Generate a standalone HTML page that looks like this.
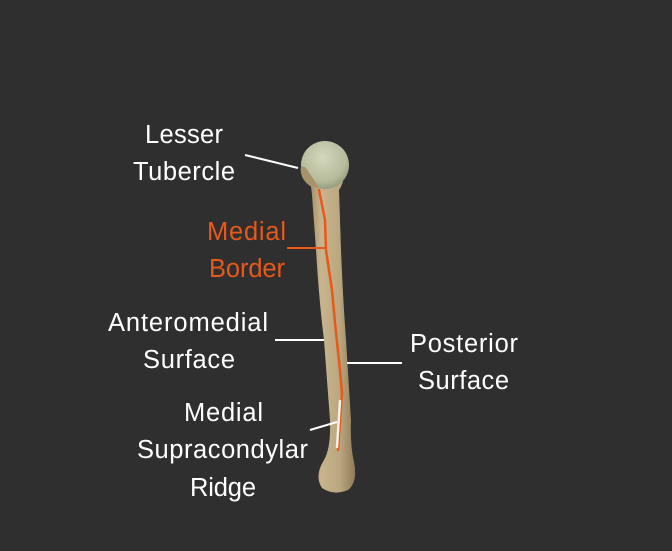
<!DOCTYPE html>
<html><head><style>html,body{margin:0;padding:0;background:#2f2f2f;}svg{display:block}</style></head>
<body>
<svg width="672" height="551" viewBox="0 0 672 551" xmlns="http://www.w3.org/2000/svg">
<defs>
<linearGradient id="sh" x1="0" x2="1" y1="0" y2="0">
<stop offset="0" stop-color="#8a7452"/><stop offset="0.35" stop-color="#c9b58d"/><stop offset="0.7" stop-color="#bba77f"/><stop offset="1" stop-color="#8f7b58"/>
</linearGradient>
<radialGradient id="hd" cx="0.45" cy="0.35" r="0.7">
<stop offset="0" stop-color="#d4d8bc"/><stop offset="0.7" stop-color="#b6bb9c"/><stop offset="1" stop-color="#8f9378"/>
</radialGradient>
</defs>
<rect width="672" height="551" fill="#2f2f2f"/>
<path d="M303,170 Q311,180 312,195 L316,250 Q319,300 324,340 L330,420 Q331,448 324,460 Q314,476 322,488 Q334,496 348,490 Q358,482 354,462 Q350,445 351,420 L346,340 Q343,300 341,250 L339,190 Q346,180 342,170 Z" fill="url(#sh)"/>
<circle cx="325" cy="165" r="24" fill="url(#hd)"/>
<path d="M301,166 Q299,178 310,186 L319,188 Q312,176 305,167 Z" fill="#a8926a"/>
<polyline points="319,190 325,220 326,250 332,290 335,323 340,370 342,393 338,450" fill="none" stroke="#e8581a" stroke-width="2.5" stroke-linecap="round" stroke-linejoin="round"/>
<line x1="340" y1="401" x2="337" y2="447" stroke="#f4f0e8" stroke-width="2.5" stroke-linecap="round"/>
<g stroke="#ffffff" stroke-width="2">
<line x1="245" y1="155" x2="298" y2="168"/>
<line x1="275" y1="340" x2="324" y2="340"/>
<line x1="347" y1="363" x2="402" y2="363"/>
<line x1="310" y1="430" x2="337" y2="422"/>
</g>
<line x1="287" y1="248" x2="325" y2="248" stroke="#e8581a" stroke-width="2"/>
<g font-family="Liberation Sans, sans-serif" font-size="25.5" fill="#ffffff" lengthAdjust="spacingAndGlyphs">
<text x="145" y="143" textLength="78">Lesser</text>
<text x="133" y="180" textLength="102">Tubercle</text>
<text x="207" y="240" textLength="79" fill="#e8581a">Medial</text>
<text x="209" y="277" textLength="76" fill="#e8581a">Border</text>
<text x="108" y="331" textLength="160">Anteromedial</text>
<text x="143" y="368" textLength="92">Surface</text>
<text x="410" y="352" textLength="108">Posterior</text>
<text x="418" y="389" textLength="91">Surface</text>
<text x="184" y="421" textLength="79">Medial</text>
<text x="137" y="458" textLength="171">Supracondylar</text>
<text x="190" y="496" textLength="66">Ridge</text>
</g>
</svg>
</body></html>
